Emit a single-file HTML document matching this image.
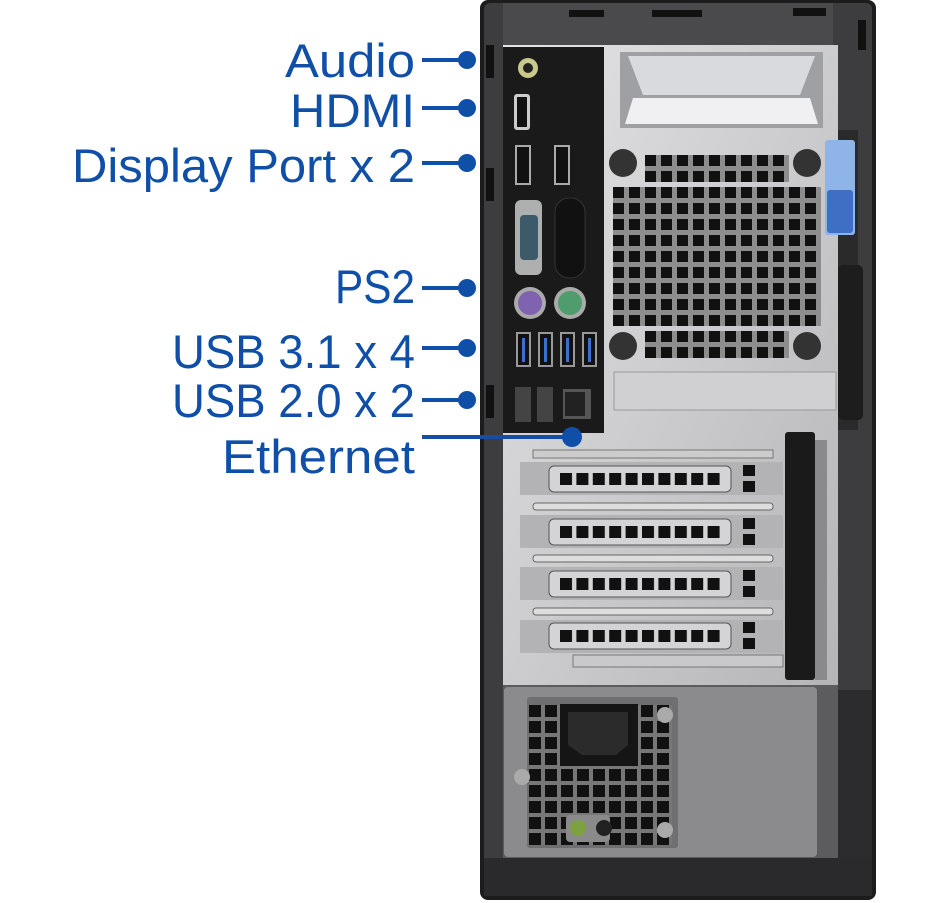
<!DOCTYPE html>
<html><head><meta charset="utf-8"><style>html,body{margin:0;padding:0;background:#fff;width:950px;height:903px;overflow:hidden}</style></head>
<body>
<svg width="950" height="903" viewBox="0 0 950 903" xmlns="http://www.w3.org/2000/svg">
<defs>
<pattern id="vent" x="613" y="155" width="16" height="16" patternUnits="userSpaceOnUse"><rect width="16" height="16" fill="#8d8d8d"/><rect x="0" y="0" width="11" height="11" fill="#111"/></pattern>
<pattern id="pci" x="560" y="0" width="16.4" height="50" patternUnits="userSpaceOnUse"><rect x="0" y="0" width="12" height="50" fill="#111"/></pattern>
<pattern id="psu" x="529" y="705" width="16" height="16" patternUnits="userSpaceOnUse"><rect width="16" height="16" fill="#777"/><rect x="0" y="0" width="12" height="12" fill="#111"/></pattern>
<linearGradient id="silver" x1="0" y1="0" x2="1" y2="1"><stop offset="0" stop-color="#e4e4e6"/><stop offset="1" stop-color="#b5b5b8"/></linearGradient>
</defs>
<!-- tower frame -->
<rect x="480" y="0" width="396" height="900" rx="8" fill="#1c1c1c"/>
<rect x="484" y="3" width="388" height="893" rx="6" fill="#3d3d3f"/>
<rect x="503" y="3" width="330" height="42" fill="#4a4a4c"/>
<rect x="569" y="10" width="35" height="7" fill="#111"/><rect x="652" y="10" width="50" height="7" fill="#111"/><rect x="793" y="8" width="33" height="8" fill="#111"/>
<rect x="858" y="20" width="8" height="30" fill="#111"/>
<rect x="486" y="45" width="8" height="33" fill="#111"/><rect x="486" y="168" width="8" height="33" fill="#111"/><rect x="486" y="385" width="8" height="33" fill="#111"/>
<!-- silver back panel -->
<rect x="503" y="45" width="335" height="640" fill="url(#silver)"/>
<rect x="838" y="130" width="20" height="300" fill="#2a2a2a"/>
<!-- handle -->
<path d="M620 52 L823 52 L823 128 L620 128 Z" fill="#9ea0a4"/>
<path d="M628 56 L815 56 L800 95 L643 95 Z" fill="#d9dadd"/>
<path d="M633 98 L810 98 L818 124 L625 124 Z" fill="#f0f0f2"/>
<!-- blue latch -->
<rect x="825" y="140" width="30" height="95" rx="3" fill="#8fb4e8"/>
<rect x="827" y="190" width="26" height="43" rx="3" fill="#3f6fc4"/>
<!-- vent grid -->
<rect x="645" y="155" width="144" height="27" fill="url(#vent)"/>
<rect x="613" y="187" width="208" height="139" fill="url(#vent)"/>
<rect x="645" y="331" width="144" height="27" fill="url(#vent)"/>
<circle cx="623" cy="163" r="14" fill="#333"/><circle cx="807" cy="163" r="14" fill="#333"/>
<circle cx="623" cy="346" r="14" fill="#333"/><circle cx="807" cy="346" r="14" fill="#333"/>
<rect x="614" y="372" width="222" height="38" fill="#d0d0d2" stroke="#999"/>
<!-- right black handle -->
<rect x="838" y="265" width="25" height="155" rx="5" fill="#1d1d1d"/>
<!-- IO panel -->
<rect x="503" y="47" width="101" height="386" fill="#1b1a1a"/>
<circle cx="528" cy="68" r="10" fill="#c8c98a"/><circle cx="528" cy="68" r="5" fill="#222"/>
<rect x="514" y="94" width="16" height="36" rx="3" fill="#ccc"/><rect x="517" y="97" width="10" height="30" fill="#111"/>
<rect x="515" y="145" width="16" height="40" fill="#aaa"/><rect x="517" y="147" width="12" height="36" fill="#111"/>
<rect x="554" y="145" width="16" height="40" fill="#aaa"/><rect x="556" y="147" width="12" height="36" fill="#111"/>
<rect x="515" y="200" width="27" height="75" rx="6" fill="#aeb0b0"/><rect x="520" y="215" width="18" height="45" rx="4" fill="#3d5a6a"/>
<rect x="555" y="198" width="30" height="80" rx="14" fill="#111" stroke="#333"/>
<circle cx="530" cy="303" r="16" fill="#aaa"/><circle cx="530" cy="303" r="12" fill="#7f63b0"/>
<circle cx="570" cy="303" r="16" fill="#aaa"/><circle cx="570" cy="303" r="12" fill="#4f9c6c"/>
<g fill="#999"><rect x="516" y="332" width="15" height="35"/><rect x="538" y="332" width="15" height="35"/><rect x="560" y="332" width="15" height="35"/><rect x="582" y="332" width="15" height="35"/></g>
<g fill="#111"><rect x="518" y="334" width="11" height="31"/><rect x="540" y="334" width="11" height="31"/><rect x="562" y="334" width="11" height="31"/><rect x="584" y="334" width="11" height="31"/></g>
<g fill="#3b6fd0"><rect x="522" y="338" width="3" height="24"/><rect x="544" y="338" width="3" height="24"/><rect x="566" y="338" width="3" height="24"/><rect x="588" y="338" width="3" height="24"/></g>
<rect x="515" y="387" width="16" height="35" fill="#444"/><rect x="537" y="387" width="16" height="35" fill="#444"/>
<rect x="563" y="389" width="28" height="30" fill="#555"/><rect x="565" y="392" width="20" height="24" fill="#222"/>
<!-- PCI slots -->
<g>
<rect x="533" y="450" width="240" height="8" fill="#ccc" stroke="#777"/>
<rect x="520" y="462" width="263" height="33" fill="#b3b3b5"/><rect x="549" y="466" width="182" height="26" rx="5" fill="#d4d4d6" stroke="#555"/><rect x="560" y="473" width="164" height="12" fill="url(#pci)"/><rect x="743" y="465" width="12" height="11" fill="#111"/><rect x="743" y="481" width="12" height="11" fill="#111"/>
<rect x="533" y="503" width="240" height="7" rx="3" fill="#ddd" stroke="#666"/>
<rect x="520" y="515" width="263" height="33" fill="#b3b3b5"/><rect x="549" y="519" width="182" height="26" rx="5" fill="#d4d4d6" stroke="#555"/><rect x="560" y="526" width="164" height="12" fill="url(#pci)"/><rect x="743" y="518" width="12" height="11" fill="#111"/><rect x="743" y="534" width="12" height="11" fill="#111"/>
<rect x="533" y="555" width="240" height="7" rx="3" fill="#ddd" stroke="#666"/>
<rect x="520" y="567" width="263" height="33" fill="#b3b3b5"/><rect x="549" y="571" width="182" height="26" rx="5" fill="#d4d4d6" stroke="#555"/><rect x="560" y="578" width="164" height="12" fill="url(#pci)"/><rect x="743" y="570" width="12" height="11" fill="#111"/><rect x="743" y="586" width="12" height="11" fill="#111"/>
<rect x="533" y="608" width="240" height="7" rx="3" fill="#ddd" stroke="#666"/>
<rect x="520" y="620" width="263" height="33" fill="#b3b3b5"/><rect x="549" y="623" width="182" height="26" rx="5" fill="#d4d4d6" stroke="#555"/><rect x="560" y="630" width="164" height="12" fill="url(#pci)"/><rect x="743" y="622" width="12" height="11" fill="#111"/><rect x="743" y="638" width="12" height="11" fill="#111"/>
<rect x="573" y="655" width="210" height="12" fill="#c9c9cb" stroke="#777"/>
</g>
<rect x="785" y="432" width="30" height="248" rx="3" fill="#1a1a1a"/>
<rect x="815" y="440" width="12" height="240" fill="#8a8a8c"/>
<!-- PSU area -->
<rect x="503" y="685" width="335" height="175" fill="#5c5c5e"/>
<rect x="504" y="687" width="313" height="170" rx="4" fill="#8b8b8d"/>
<rect x="527" y="697" width="151" height="151" rx="3" fill="#6f6f71"/>
<rect x="529" y="705" width="143" height="140" fill="url(#psu)"/>
<rect x="560" y="704" width="78" height="62" fill="#151515"/>
<path d="M568 712 H628 V745 L616 755 H582 L568 745 Z" fill="#2b2b2b"/>
<rect x="566" y="815" width="44" height="27" rx="4" fill="#8a8a8a"/><circle cx="578" cy="828" r="8" fill="#7da040"/><circle cx="604" cy="828" r="8" fill="#222"/>
<circle cx="665" cy="715" r="8" fill="#aaa"/><circle cx="665" cy="830" r="8" fill="#aaa"/><circle cx="522" cy="777" r="8" fill="#aaa"/>
<rect x="838" y="690" width="34" height="200" fill="#2c2c2e"/>
<rect x="484" y="858" width="388" height="38" fill="#2a2a2c"/>
<!-- labels -->
<g font-family="'Liberation Sans', sans-serif" font-size="47" fill="#0f4fa8" text-anchor="end">
<text x="415" y="77" textLength="130" lengthAdjust="spacingAndGlyphs">Audio</text>
<text x="415" y="127" textLength="125" lengthAdjust="spacingAndGlyphs">HDMI</text>
<text x="415" y="182" textLength="343" lengthAdjust="spacingAndGlyphs">Display Port x 2</text>
<text x="415" y="303" textLength="80" lengthAdjust="spacingAndGlyphs">PS2</text>
<text x="415" y="368" textLength="243" lengthAdjust="spacingAndGlyphs">USB 3.1 x 4</text>
<text x="415" y="417" textLength="243" lengthAdjust="spacingAndGlyphs">USB 2.0 x 2</text>
<text x="415" y="473" textLength="193" lengthAdjust="spacingAndGlyphs">Ethernet</text>
</g>
<g stroke="#0f4fa8" stroke-width="4" fill="#0f4fa8">
<line x1="422" y1="60" x2="467" y2="60"/><circle cx="467" cy="60" r="9" stroke="none"/>
<line x1="422" y1="108" x2="467" y2="108"/><circle cx="467" cy="108" r="9" stroke="none"/>
<line x1="422" y1="163" x2="467" y2="163"/><circle cx="467" cy="163" r="9" stroke="none"/>
<line x1="422" y1="288" x2="467" y2="288"/><circle cx="467" cy="288" r="9" stroke="none"/>
<line x1="422" y1="348" x2="467" y2="348"/><circle cx="467" cy="348" r="9" stroke="none"/>
<line x1="422" y1="400" x2="467" y2="400"/><circle cx="467" cy="400" r="9" stroke="none"/>
<line x1="422" y1="437" x2="572" y2="437"/><circle cx="572" cy="437" r="10" stroke="none"/>
</g>
</svg>
</body></html>
